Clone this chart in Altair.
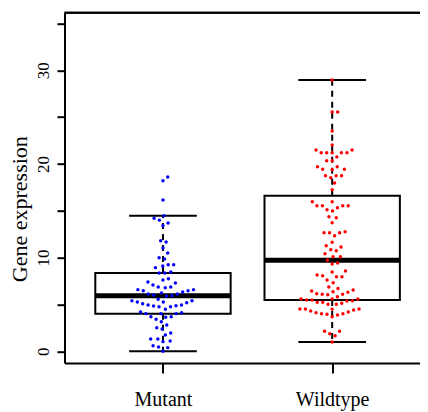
import math
import altair as alt
import pandas as pd

groups = ["Mutant", "Wildtype"]
group_pos = [1, 2]
colors = ["#0000FF", "#FF0000"]

mutant = [18.6, 18.2, 16.15, 14.47, 14.2, 14.0, 13.7, 13.4, 11.8, 11.67,
          11.02, 10.49, 9.99, 9.85, 8.93, 9.1, 9.24, 9.24, 8.36, 8.36,
          8.46, 7.75, 7.61, 7.4, 7.29, 7.08, 6.86, 6.79, 6.86, 6.58,
          6.47, 6.33, 6.47, 6.58, 6.11, 6.0, 5.9, 5.94, 6.11, 6.22,
          5.55, 5.4, 5.26, 4.94, 4.83, 4.76, 5.19, 4.76, 4.87, 4.94,
          5.08, 5.26, 5.4, 4.48, 4.19, 4.02, 3.69, 3.63, 3.42, 4.02,
          3.69, 4.02, 4.12, 3.16, 2.81, 2.52, 2.38, 1.74, 1.95, 1.31,
          1.31, 1.03, 1.1, 0.6, 0.46, 0.39, 0.0]

wildtype = [28.95, 25.54, 25.54, 23.52, 22.03, 21.48, 21.2, 21.2, 21.48, 21.2,
            21.2, 21.2, 20.75, 20.34, 20.34, 19.7, 19.42, 19.7, 19.42, 19.38,
            18.74, 18.53, 18.74, 18.74, 17.96, 17.25,
            15.97, 15.54, 15.54, 15.97, 15.54, 15.54, 15.11, 14.97, 15.33,
            14.37, 14.26, 13.73, 12.76, 12.66, 12.34, 12.66, 12.66,
            11.63, 11.27, 11.13, 10.84, 10.74, 10.42, 10.1, 10.1,
            9.71, 9.32, 9.42, 8.46, 8.14, 7.96, 7.96, 8.07, 8.57,
            7.32, 7.61, 6.44, 6.08, 6.36, 6.3, 6.54, 6.86, 6.08, 5.83, 6.7,
            6.15, 5.58, 5.47, 5.47, 5.23, 5.12, 5.02, 5.4, 5.02, 5.23,
            5.37, 5.58, 5.58, 6.04,
            4.51, 4.51, 4.41, 4.12, 4.01, 3.87, 3.69, 3.95, 4.01, 4.19,
            4.3, 4.51, 4.5,
            2.13, 1.88, 1.67, 2.13, 1.0]

series = [mutant, wildtype]

y_ticks = [0, 5, 10, 15, 20, 25, 30, 35]
y_title = "Gene expression"
FONT = "Liberation Serif"

W, H = 355.5, 350.3
XDOM = [0.418, 2.519]
YDOM = [-1.25, 36.14]
px_x = W / (XDOM[1] - XDOM[0])
px_y = H / (YDOM[1] - YDOM[0])
XS, YS = 5.5, 7.4  # beeswarm point spacing (px)


def swarm(vals):
    order = sorted(range(len(vals)), key=lambda i: vals[i])
    placed = []
    out = [0.0] * len(vals)
    for i in order:
        y = vals[i] * px_y / YS
        near = [(px, py) for px, py in placed if abs(py - y) < 1]
        cands = [0.0]
        for px, py in near:
            off = math.sqrt(1 - (py - y) ** 2)
            cands += [px + off, px - off]
        good = [c for c in cands
                if all((c - px) ** 2 + (py - y) ** 2 >= 0.999 for px, py in near)]
        best = min(good, key=abs)
        placed.append((best, y))
        out[i] = best * XS / px_x
    return out


def fivenum(v):
    x = sorted(v)
    n = len(x)
    n4 = math.floor((n + 3) / 2) / 2
    d = [1, n4, (n + 1) / 2, n + 1 - n4, n]
    return [0.5 * (x[math.floor(k) - 1] + x[math.ceil(k) - 1]) for k in d]


pts_rows, stat_rows = [], []
for g, pos, col, vals in zip(groups, group_pos, colors, series):
    offs = swarm(vals)
    for v, o in zip(vals, offs):
        pts_rows.append({"group": g, "value": v, "xpos": pos + o, "color": col})
    _, q1, med, q3, _ = fivenum(vals)
    iqr = q3 - q1
    lo = min(v for v in vals if v >= q1 - 1.5 * iqr)
    hi = max(v for v in vals if v <= q3 + 1.5 * iqr)
    stat_rows.append({"group": g, "center": pos, "left": pos - 0.4, "right": pos + 0.4,
                      "capL": pos - 0.2, "capR": pos + 0.2,
                      "q1": q1, "med": med, "q3": q3, "lo": lo, "hi": hi})

pts = pd.DataFrame(pts_rows)
stats = pd.DataFrame(stat_rows)

xscale = alt.Scale(domain=XDOM, nice=False, zero=False)
yscale = alt.Scale(domain=YDOM, nice=False, zero=False)

label_js = "[" + ",".join("'" + g + "'" for g in groups) + "]"
xaxis = alt.Axis(values=group_pos, labelExpr=label_js + "[datum.value - 1]",
                 grid=False, tickSize=10, tickWidth=2, tickColor="black",
                 domainColor="black", domainWidth=2, labelFont=FONT,
                 labelFontSize=20, labelColor="black", labelPadding=16,
                 labelFlush=False, labelOverlap=False, title="")
yaxis = alt.Axis(values=y_ticks,
                 labelExpr="datum.value % 10 === 0 ? datum.label : ''",
                 grid=False, tickSize=7.5, tickWidth=2, tickColor="black",
                 domainColor="black", domainWidth=2, labelFont=FONT,
                 labelFontSize=17, labelColor="black", labelAngle=270,
                 labelAlign="center", labelBaseline="middle", labelPadding=14,
                 labelFlush=False, labelOverlap=False,
                 title=y_title, titleFont=FONT, titleFontSize=22,
                 titleFontWeight="normal", titleColor="black",
                 titleAngle=270, titleAlign="center", titleBaseline="middle",
                 titleX=-45, titleY=196)


def X(f):
    return alt.X(f, type="quantitative", scale=xscale, axis=xaxis)


def Y(f):
    return alt.Y(f, type="quantitative", scale=yscale, axis=yaxis)


base = alt.Chart(stats)

box = base.mark_rect(fillOpacity=0, stroke="black", strokeWidth=2).encode(
    x=X("left"), x2="right", y=Y("q1"), y2="q3")
median = base.mark_rule(color="black", strokeWidth=5).encode(
    x=X("left"), x2="right", y=Y("med"))
wh_up = base.mark_rule(color="black", strokeWidth=2, strokeDash=[6, 5]).encode(
    x=X("center"), y=Y("q3"), y2="hi")
wh_lo = base.mark_rule(color="black", strokeWidth=2, strokeDash=[6, 5]).encode(
    x=X("center"), y=Y("q1"), y2="lo")
cap_up = base.mark_rule(color="black", strokeWidth=2).encode(
    x=X("capL"), x2="capR", y=Y("hi"))
cap_lo = base.mark_rule(color="black", strokeWidth=2).encode(
    x=X("capL"), x2="capR", y=Y("lo"))

points = alt.Chart(pts).mark_circle(size=12, opacity=1).encode(
    x=X("xpos"), y=Y("value"),
    color=alt.Color("color:N", scale=None))

top_frame = alt.Chart(stats).mark_rule(color="black", strokeWidth=2).encode(
    y=alt.Y(datum=YDOM[1], type="quantitative", scale=yscale, axis=yaxis))

chart = alt.layer(box, median, wh_up, wh_lo, cap_up, cap_lo, points, top_frame).properties(
    width=W, height=H,
    autosize=alt.AutoSizeParams(type="none"),
    padding={"left": 56.5, "top": 4.7, "right": 0, "bottom": 49},
    background="white",
).configure_view(stroke="transparent")

chart.save("out.html", embed_options={"renderer": "svg", "actions": False})
